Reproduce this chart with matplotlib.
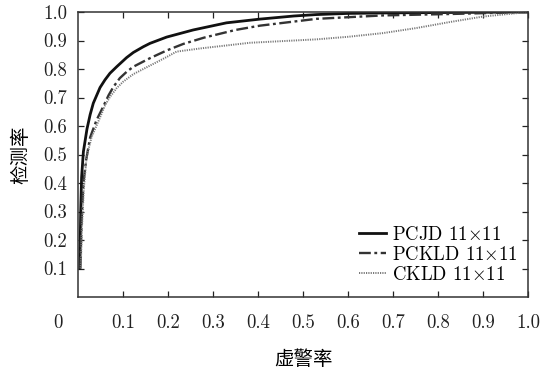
import matplotlib
matplotlib.use("Agg")
import matplotlib.pyplot as plt

plt.rcParams['font.family'] = ['cmr10', 'DejaVu Serif']
plt.rcParams['mathtext.fontset'] = 'cm'
plt.rcParams['axes.formatter.use_mathtext'] = True

# Data
pcjd_x = [0.004, 0.006, 0.008, 0.012, 0.020, 0.027, 0.034, 0.049, 0.060, 0.071, 0.086,
          0.108, 0.123, 0.145, 0.160, 0.197, 0.256, 0.330, 0.404, 0.480, 0.530, 0.600,
          0.700, 0.800, 0.900, 1.000]
pcjd_y = [0.10, 0.30, 0.42, 0.51, 0.59, 0.64, 0.68, 0.735, 0.762, 0.785, 0.808,
          0.840, 0.858, 0.878, 0.890, 0.912, 0.937, 0.962, 0.975, 0.986, 0.991, 0.995,
          0.997, 0.998, 0.999, 1.000]

pckld_x = [0.005, 0.008, 0.012, 0.018, 0.027, 0.041, 0.056, 0.068, 0.079, 0.093, 0.108,
           0.123, 0.145, 0.160, 0.197, 0.234, 0.280, 0.350, 0.404, 0.530, 0.678, 0.827,
           1.000]
pckld_y = [0.10, 0.27, 0.40, 0.48, 0.56, 0.62, 0.668, 0.708, 0.738, 0.768, 0.790,
           0.808, 0.826, 0.838, 0.865, 0.888, 0.910, 0.937, 0.952, 0.976, 0.988, 0.993,
           1.000]

ckld_x = [0.006, 0.009, 0.013, 0.019, 0.030, 0.049, 0.060, 0.071, 0.086, 0.100, 0.123,
          0.160, 0.197, 0.219, 0.271, 0.382, 0.530, 0.600, 0.678, 0.753, 0.827, 0.900,
          1.000]
ckld_y = [0.10, 0.25, 0.38, 0.49, 0.56, 0.63, 0.672, 0.702, 0.733, 0.755, 0.782,
          0.812, 0.842, 0.861, 0.872, 0.892, 0.904, 0.913, 0.926, 0.944, 0.965, 0.984,
          1.000]

labels = ['PCJD $11{\\times}11$', 'PCKLD $11{\\times}11$', 'CKLD $11{\\times}11$']
tick_vals = [0.1, 0.2, 0.3, 0.4, 0.5, 0.6, 0.7, 0.8, 0.9, 1.0]
tick_labels = ['0.1', '0.2', '0.3', '0.4', '0.5', '0.6', '0.7', '0.8', '0.9', '1.0']
xlabel = '虚警率'
ylabel = '检测率'

fig = plt.figure(figsize=(5.42, 3.72), dpi=100)
ax = fig.add_axes([78 / 542, 1 - 297 / 372, 450 / 542, 285 / 372])

ax.plot(pcjd_x, pcjd_y, color='#111111', lw=2.0, ls='-', label=labels[0])
ax.plot(pckld_x, pckld_y, color='#333333', lw=1.7, ls=(0, (5, 1.5, 1.2, 1.5)), label=labels[1])
ax.plot(ckld_x, ckld_y, color='#777777', lw=1.4, ls=(0, (0.6, 0.6)), label=labels[2])

ax.set_xlim(0, 1)
ax.set_ylim(0, 1)
ax.set_xticks(tick_vals)
ax.set_xticklabels(tick_labels)
ax.set_yticks(tick_vals)
ax.set_yticklabels(tick_labels)
ax.tick_params(direction='in', length=4, width=0.9, top=True, right=True,
               labelsize=13.5, colors='#222222')
ax.tick_params(axis='x', pad=12)
ax.tick_params(axis='y', pad=8)
for s in ax.spines.values():
    s.set_linewidth(1.1)
    s.set_color('#333333')

ax.annotate('0', xy=(0, 0), xycoords='axes fraction', xytext=(-14.4, -19.0),
            textcoords='offset points', ha='center', va='center', fontsize=13.5,
            color='#222222')

ax.set_xlabel(xlabel, family=['Noto Sans CJK SC'], fontsize=14, labelpad=12.5)
ax.set_ylabel(ylabel, family=['Noto Sans CJK SC'], fontsize=14, labelpad=8)

leg = ax.legend(loc='upper left', frameon=False, fontsize=13.5, handlelength=1.45,
                handletextpad=0.3, labelspacing=0.1, borderpad=0.0, borderaxespad=0.0,
                bbox_to_anchor=((359 - 78) / 450, (297 - 226) / 285))

fig.savefig('out.png', dpi=100)
